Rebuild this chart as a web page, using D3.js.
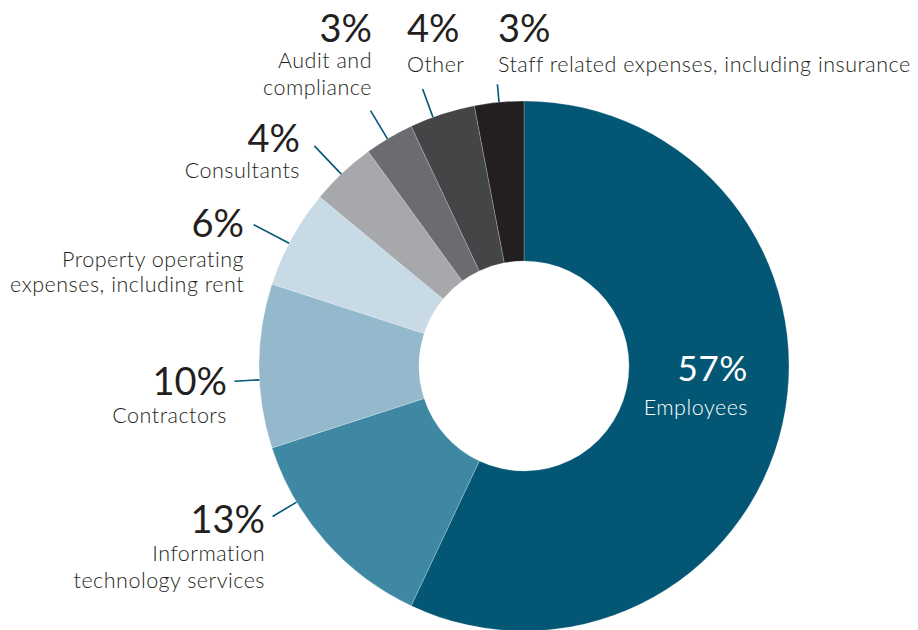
<!DOCTYPE html>
<html>
<head>
<meta charset="utf-8">
<script src="https://cdn.jsdelivr.net/npm/d3@7"></script>
<style>
  html, body { margin: 0; padding: 0; background: #ffffff; }
  svg { display: block; }
  text { font-family: "Lato", "Open Sans", sans-serif; }
</style>
</head>
<body>
<svg id="chart" width="918" height="630"></svg>
<script>
// Operating expenditure split (percent of total), clockwise from 12 o'clock
const categories = [
  "Employees",
  "Information technology services",
  "Contractors",
  "Property operating expenses, including rent",
  "Consultants",
  "Audit and compliance",
  "Other",
  "Staff related expenses, including insurance"
];
const shares = [57, 13, 10, 6, 4, 3, 4, 3];
const sliceColors = ["#035774", "#3f88a3", "#94b8cc", "#c7dae6", "#a7a8ab", "#6b6c70", "#444547", "#231f20"];

// How each category name is broken across lines
const nameLines = [
  ["Employees"],
  ["Information", "technology services"],
  ["Contractors"],
  ["Property operating", "expenses, including rent"],
  ["Consultants"],
  ["Audit and", "compliance"],
  ["Other"],
  ["Staff related expenses, including insurance"]
];

// Label placement: anchor x, baseline of the percentage, baselines of the name lines,
// leader angle (degrees clockwise from top) and leader length
const labelLayout = [
  { x: 748, anchor: "end",   pctY: 381, nameY: [415],      inside: true },
  { x: 265, anchor: "end",   pctY: 533, nameY: [561, 588], leaderDeg: 239.1, leaderLen: 28 },
  { x: 227, anchor: "end",   pctY: 395, nameY: [423],      leaderDeg: 267.0, leaderLen: 25 },
  { x: 244, anchor: "end",   pctY: 237, nameY: [267, 292], leaderDeg: 297.6, leaderLen: 40 },
  { x: 300, anchor: "end",   pctY: 152, nameY: [178],      leaderDeg: 316.4, leaderLen: 39 },
  { x: 372, anchor: "end",   pctY: 42,  nameY: [68, 95],   leaderDeg: 329.0, leaderLen: 33 },
  { x: 407, anchor: "start", pctY: 42,  nameY: [72],       leaderDeg: 339.9, leaderLen: 30 },
  { x: 498, anchor: "start", pctY: 42,  nameY: [72],       leaderDeg: 354.6, leaderLen: 18 }
];

const cx = 524, cy = 366;
const outerR = 265, innerR = 105;
const textColor = "#231f20";
const leaderColor = "#035774";

const svg = d3.select("#chart");

const data = categories.map((c, i) => ({ name: c, value: shares[i], color: sliceColors[i], lines: nameLines[i], layout: labelLayout[i] }));

const pie = d3.pie()
  .value(d => d.value)
  .sort(null)
  .startAngle(0)
  .endAngle(2 * Math.PI);

const arc = d3.arc().innerRadius(innerR).outerRadius(outerR);

const g = svg.append("g").attr("transform", `translate(${cx},${cy})`);

g.selectAll("path.slice")
  .data(pie(data))
  .join("path")
  .attr("class", "slice")
  .attr("d", arc)
  .attr("fill", d => d.data.color)
  .attr("stroke", "#ffffff")
  .attr("stroke-width", 0.5)
  .attr("stroke-opacity", 0.45);

// Leader lines, radial from the outer edge
const outside = data.filter(d => !d.layout.inside);
svg.selectAll("line.leader")
  .data(outside)
  .join("line")
  .attr("class", "leader")
  .each(function (d) {
    const a = d.layout.leaderDeg * Math.PI / 180;
    const p0 = d3.pointRadial(a, outerR);
    const p1 = d3.pointRadial(a, outerR + d.layout.leaderLen);
    d3.select(this)
      .attr("x1", cx + p0[0]).attr("y1", cy + p0[1])
      .attr("x2", cx + p1[0]).attr("y2", cy + p1[1]);
  })
  .attr("stroke", leaderColor)
  .attr("stroke-width", 1.6);

// Labels
const labels = svg.selectAll("g.label")
  .data(data)
  .join("g")
  .attr("class", "label");

labels.append("text")
  .attr("x", d => d.layout.x)
  .attr("y", d => d.layout.pctY)
  .attr("text-anchor", d => d.layout.anchor)
  .attr("fill", d => d.layout.inside ? "#ffffff" : textColor)
  .attr("font-size", d => d.layout.inside ? 35 : 38)
  .attr("letter-spacing", d => d.layout.inside ? 0.6 : 0)
  .attr("font-weight", 400)
  .text(d => d.value + "%");

labels.each(function (d) {
  const sel = d3.select(this);
  d.lines.forEach((line, j) => {
    sel.append("text")
      .attr("x", d.layout.x)
      .attr("y", d.layout.nameY[j])
      .attr("text-anchor", d.layout.anchor)
      .attr("fill", d.layout.inside ? "#ffffff" : textColor)
      .attr("font-size", 21.5)
      .attr("letter-spacing", 0.5)
      .attr("font-weight", 300)
      .text(line);
  });
});
</script>
</body>
</html>
